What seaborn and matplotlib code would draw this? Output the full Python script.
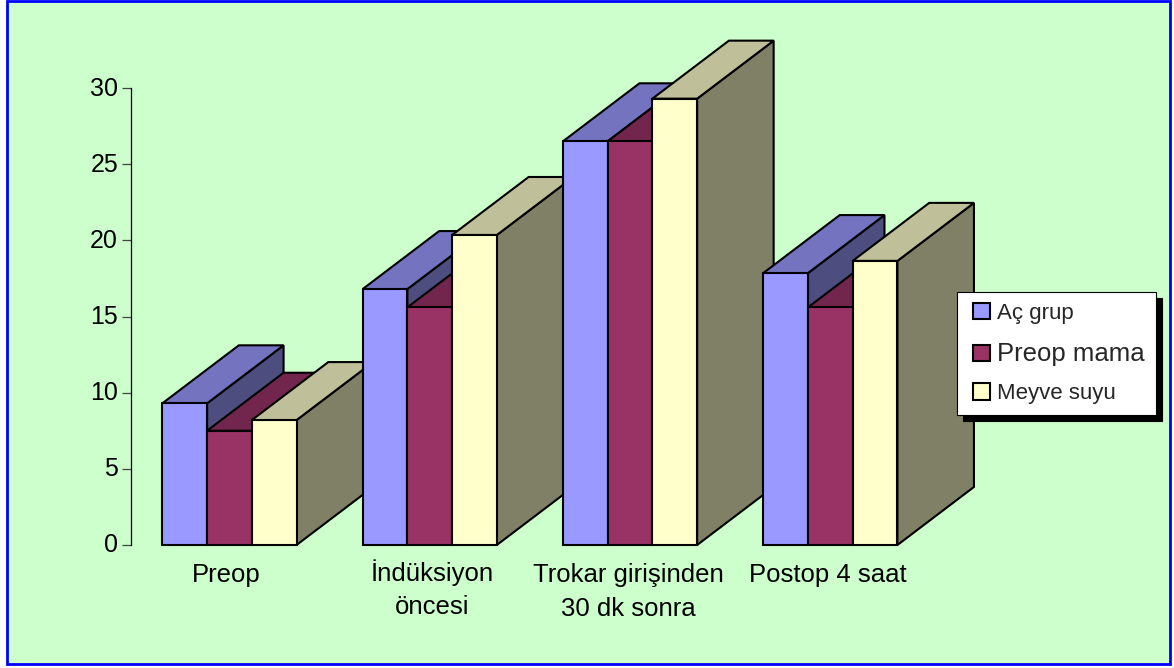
import matplotlib
matplotlib.use("Agg")
import matplotlib.pyplot as plt
import matplotlib.transforms as mtrans
from matplotlib.legend_handler import HandlerPatch
from matplotlib.patches import Polygon, Rectangle
from matplotlib.colors import to_rgb
import pandas as pd
import seaborn as sns

categories = ["Preop", "İndüksiyon\nöncesi", "Trokar girişinden\n30 dk sonra", "Postop 4 saat"]
ac_grup = [9.3, 16.8, 26.5, 17.85]
preop_mama = [7.5, 15.6, 26.5, 15.6]
meyve_suyu = [8.2, 20.35, 29.3, 18.65]
series_names = ["Aç grup", "Preop mama", "Meyve suyu"]
series_colors = ["#9999FF", "#993366", "#FFFFCC"]

W, H = 1174, 668
DEPTH_X = 76.5 / 200.3   # extrusion in category units
DEPTH_Y = 58 / 15.23     # extrusion in value units
EDGE = 1.5

sns.set_style("white")
plt.rcParams["font.family"] = ["Liberation Sans", "DejaVu Sans"]

df = pd.DataFrame({
    "kategori": categories * 3,
    "grup": [s for s in series_names for _ in categories],
    "deger": ac_grup + preop_mama + meyve_suyu,
})

fig = plt.figure(figsize=(W / 100, H / 100), dpi=100, facecolor="white")

# Panel with its blue outline, kept behind the axes
fig.add_artist(Rectangle((7 / W, 1 - 664 / H), 1163 / W, 663 / H, transform=fig.transFigure,
                         facecolor="#CCFFCC", edgecolor="#0000FF", linewidth=2, zorder=-1))

ax = fig.add_axes([130.5 / W, 1 - 545 / H, 800 / W, 457 / H])
ax.patch.set_alpha(0)
sns.barplot(data=df, x="kategori", y="deger", hue="grup", hue_order=series_names,
            palette=series_colors, saturation=1, width=0.67, gap=0, legend=False,
            edgecolor="black", linewidth=EDGE, ax=ax)

ax.set_xlim(-0.494, 3.5)
ax.set_ylim(0, 30)
ax.set_xlabel("")
ax.set_ylabel("")
for side in ("top", "right", "bottom"):
    ax.spines[side].set_visible(False)
ax.spines["left"].set_color("black")
ax.spines["left"].set_linewidth(0.9)

ax.set_yticks([0, 5, 10, 15, 20, 25, 30])
ax.tick_params(axis="y", left=True, length=6.5, width=0.9, color="#444444", pad=2.5,
               labelsize=18, labelcolor="black")
ax.tick_params(axis="x", bottom=False, length=0, pad=13, labelsize=18.5, labelcolor="black")

for label in ax.get_yticklabels():
    label.set_transform(label.get_transform() + mtrans.Affine2D().translate(0, 2))


def shaded(color, factor):
    return tuple(c * factor for c in to_rgb(color))


# Extrude each bar: side and top faces share the stacking level of the front face
for s, (container, color) in enumerate(zip(ax.containers, series_colors)):
    for c, bar in enumerate(container):
        x0, x1 = bar.get_x(), bar.get_x() + bar.get_width()
        top = bar.get_height()
        z = 2 + c * 0.5 + s * 0.1
        side = Polygon([(x1, 0), (x1 + DEPTH_X, DEPTH_Y), (x1 + DEPTH_X, top + DEPTH_Y), (x1, top)],
                       facecolor=shaded(color, 0.5), edgecolor="black", linewidth=EDGE,
                       joinstyle="miter", clip_on=False, zorder=z)
        roof = Polygon([(x0, top), (x0 + DEPTH_X, top + DEPTH_Y), (x1 + DEPTH_X, top + DEPTH_Y), (x1, top)],
                       facecolor=shaded(color, 0.75), edgecolor="black", linewidth=EDGE,
                       joinstyle="miter", clip_on=False, zorder=z + 0.01)
        ax.add_patch(side)
        ax.add_patch(roof)
        bar.set_zorder(z + 0.02)
        bar.set_clip_on(False)
        bar.set_joinstyle("miter")

# Category labels are nudged off their group centres
label_shift_px = [(-3, 0), (2, 4), (-1.5, 0), (-2.5, 0)]
for label, (dx, dy) in zip(ax.get_xticklabels(), label_shift_px):
    label.set_transform(label.get_transform() + mtrans.Affine2D().translate(dx, dy))
    label.set_linespacing(1.5)
    label.set_multialignment("center")

handles = [Rectangle((0, 0), 1, 1, facecolor=c, edgecolor="black", linewidth=EDGE) for c in series_colors]
SWATCH_INSET = 0.225
legend = ax.legend(handles, series_names, loc="upper left",
                   bbox_to_anchor=(957 / W, 1 - 292 / H), bbox_transform=fig.transFigure,
                   prop={"size": 16}, frameon=True, fancybox=False, framealpha=1,
                   facecolor="white", edgecolor="black", borderaxespad=0, borderpad=0.49,
                   handlelength=0.77 + SWATCH_INSET, handleheight=0.77, handletextpad=0.32,
                   labelspacing=0.8,
                   handler_map={Rectangle: HandlerPatch(xpad=SWATCH_INSET)},
                   shadow={"ox": 4.3, "oy": -4.3, "facecolor": "black", "edgecolor": "black", "alpha": 1})
legend.get_frame().set_linewidth(0.8)
legend.set_zorder(20)
legend.get_texts()[1].set_fontsize(18.5)

fig.savefig("out.png", dpi=100, facecolor="white")
